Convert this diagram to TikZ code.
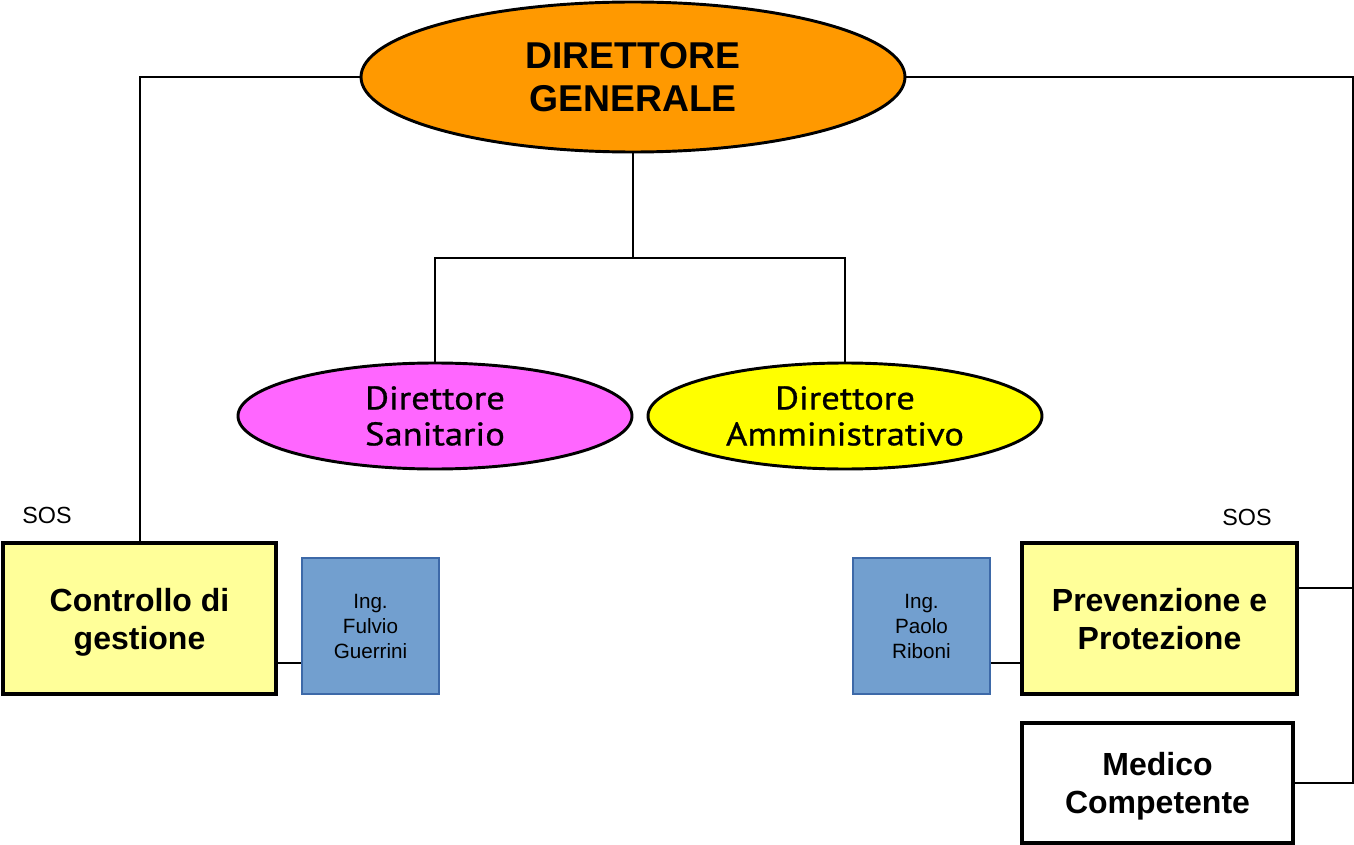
\documentclass[tikz,border=0pt]{standalone}
\usepackage{fontspec}
\setmainfont{Liberation Sans}
\newfontfamily\ptsans[FakeStretch=1.12, FakeBold=0.8]{PT Sans}
\usetikzlibrary{positioning, calc, shapes.geometric}

\definecolor{dgorange}{HTML}{FF9900}
\definecolor{dsmagenta}{HTML}{FF66FF}
\definecolor{dayellow}{HTML}{FFFF00}
\definecolor{sosyellow}{HTML}{FFFF99}
\definecolor{ingblue}{HTML}{729FCF}
\definecolor{ingborder}{HTML}{3D69A8}

\begin{document}
\begin{tikzpicture}[x=0.75pt, y=-0.75pt, line width=1.5pt]

  \tikzstyle{boss}=[ellipse, draw, align=center, inner sep=0pt, line width=2.2pt]
  \tikzstyle{deputy}=[boss, minimum width=295.5pt, minimum height=79.5pt,
    font=\ptsans\fontsize{24.5}{27}\selectfont]
  \tikzstyle{unit}=[draw, align=center, inner sep=0pt, line width=2.6pt, text depth=0pt,
    font=\bfseries\fontsize{24}{28.5}\selectfont]
  \tikzstyle{sos}=[unit, fill=sosyellow, minimum height=113.25pt]
  \tikzstyle{ing}=[draw=ingborder, fill=ingblue, align=center, inner sep=0pt,
    line width=1.3pt, minimum width=102.75pt, minimum height=102pt, text depth=0pt,
    font=\fontsize{15.5}{18.75}\selectfont]
  \tikzstyle{tag}=[font=\fontsize{17.5}{20}\selectfont]

  \useasboundingbox (0,0) rectangle (1354,845);

  \node [boss, fill=dgorange, minimum width=408pt, minimum height=112.5pt,
    font=\bfseries\fontsize{28}{32}\selectfont] (DG) at (633,77) {DIRETTORE\\GENERALE};

  \node [deputy, fill=dsmagenta] (DS) at (435,416) {Direttore\\Sanitario};
  \node [deputy, fill=dayellow] (DA) at (845,416) {Direttore\\Amministrativo};

  \node [sos, minimum width=204.75pt] (CG) at (139.5,618.5) {Controllo di\\gestione};
  \node [ing] (ing-F) at (370.5,626) {Ing.\\Fulvio\\Guerrini};

  \node [sos, minimum width=206.25pt] (PP) at (1159.5,618.5) {Prevenzione e\\Protezione};
  \node [ing] (ing-R) at (921.5,626) {Ing.\\Paolo\\Riboni};

  \node [unit, fill=white, minimum width=203.25pt, minimum height=90pt] (MC) at (1157.5,783) {Medico\\Competente};

  \node [tag] (sos-L) at (47,515) {SOS};
  \node [tag] (sos-R) at (1247,517) {SOS};

  \coordinate (hub) at (633,258);
  \coordinate (rail) at (1353,77);
  \coordinate (tap) at (1353,588);
  \coordinate (fg-in) at ($(ing-F.west)+(0,37)$);
  \coordinate (rb-in) at ($(ing-R.east)+(0,37)$);

  \draw (DG.south) -- (hub) -| (DS.north);
  \draw (hub) -| (DA.north);
  \draw (DG.west) -| (CG.north);
  \draw (DG.east) -- (rail) |- (MC.east);
  \draw (tap) -- (tap -| PP.east);
  \draw (fg-in) -- (fg-in -| CG.east);
  \draw (rb-in) -- (rb-in -| PP.west);

\end{tikzpicture}
\end{document}
